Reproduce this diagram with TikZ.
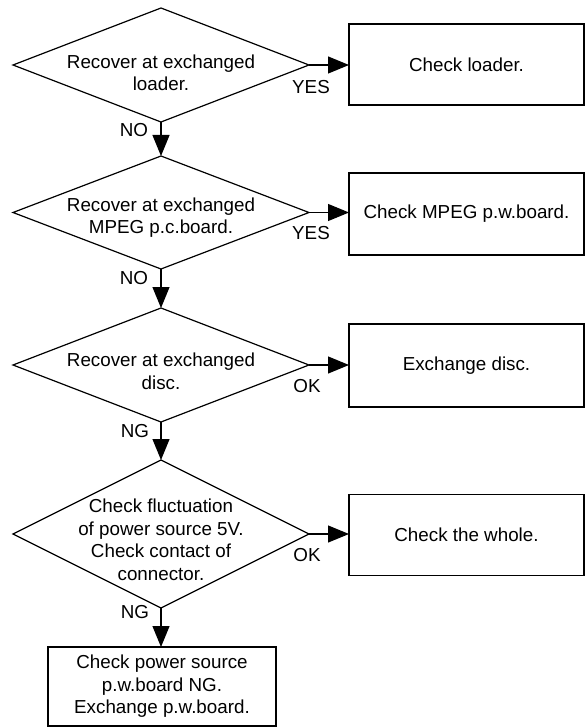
\documentclass[tikz,border=0pt]{standalone}
\usepackage{fontspec}
\setmainfont{Liberation Sans}
\usetikzlibrary{shapes.geometric,arrows.meta}
\begin{document}
\begin{tikzpicture}[x=1pt,y=-1pt,
  every node/.style={font=\fontsize{18.8pt}{22.5pt}\selectfont},
  dec/.style={draw, line width=1.2pt, shape=diamond, minimum width=296pt, inner sep=0pt, outer sep=0pt},
  box/.style={draw, line width=1.2pt, rectangle, minimum width=235pt, inner sep=0pt, outer sep=0pt, align=center},
  txt/.style={align=center, inner sep=0pt},
  lbl/.style={inner sep=0pt},
  arr/.style={line width=1.2pt, -{Triangle[length=21pt,width=17pt]}}]
\useasboundingbox (0,0) rectangle (585,727);

% decisions
\node[dec, minimum height=114pt] (d1) at (161,65) {};
\node[dec, minimum height=113pt] (d2) at (161,212.5) {};
\node[dec, minimum height=114pt] (d3) at (161,365) {};
\node[dec, minimum height=148pt] (d4) at (161,534) {};

\node[txt] (t1) at (161,73) {Recover at exchanged\\loader.};
\node[txt] (t2) at (161,217.5) {Recover at exchanged\\MPEG p.c.board.};
\node[txt] (t3) at (161,371.5) {Recover at exchanged\\disc.};
\node[txt] (t4) at (161,540) {Check fluctuation\\of power source 5V.\\Check contact of\\connector.};

% result boxes
\node[box, minimum height=81pt] (b1) at (466.5,64.5) {Check loader.};
\node[box, minimum height=82pt] (b2) at (466.5,214) {Check MPEG p.w.board.};
\node[box, minimum height=83pt] (b3) at (466.5,365.5) {Exchange disc.};
\node[box, minimum height=81pt] (b4) at (466.5,535) {Check the whole.};
\node[box, minimum width=228pt, minimum height=79pt] (b5) at (162,686.5) {Check power source\\p.w.board NG.\\Exchange p.w.board.};

% connectors
\draw[arr] (d1.east) -- (d1.east -| b1.west);
\draw[arr] (d2.east) -- (d2.east -| b2.west);
\draw[arr] (d3.east) -- (d3.east -| b3.west);
\draw[arr] (d4.east) -- (d4.east -| b4.west);
\draw[arr] (d1.south) -- (d2.north);
\draw[arr] (d2.south) -- (d3.north);
\draw[arr] (d3.south) -- (d4.north);
\draw[arr] (d4.south) -- (d4.south |- b5.north);

% labels
\node[lbl] (l1) at (311,87) {YES};
\node[lbl] (l2) at (311,233) {YES};
\node[lbl] (l3) at (307,386) {OK};
\node[lbl] (l4) at (307,555) {OK};
\node[lbl] (l5) at (134,130) {NO};
\node[lbl] (l6) at (134,278) {NO};
\node[lbl] (l7) at (135,431) {NG};
\node[lbl] (l8) at (135,612) {NG};
\end{tikzpicture}
\end{document}
